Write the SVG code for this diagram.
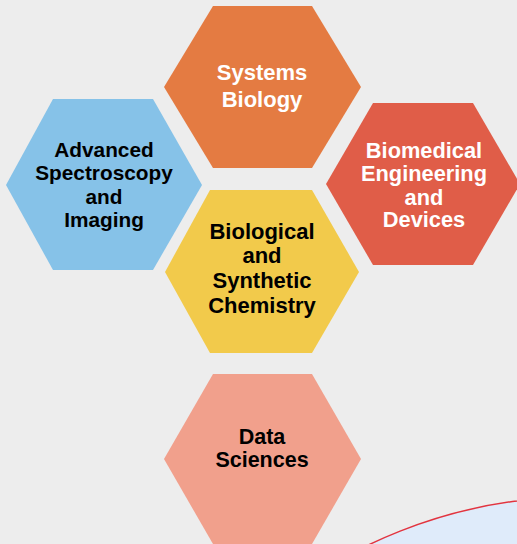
<svg xmlns="http://www.w3.org/2000/svg" width="517" height="544" viewBox="0 0 517 544">
<style>
  .t{font-family:"Liberation Sans",Arial,sans-serif;font-weight:bold;text-anchor:middle}
  .w{fill:#FFFFFF}
  .k{fill:#000000}
</style>
<rect x="0" y="0" width="517" height="544" fill="#EDEDED"/>
<g id="connectors"></g>
<circle cx="579" cy="983" r="486" fill="#DFEBFA" stroke="#E2343F" stroke-width="1.5"/>
<g id="systems-biology">
  <polygon points="164,87 213,6 312,6 361,87 312,168 213,168" fill="#E47B42"/>
  <text class="t w" font-size="22" x="262" y="80">Systems</text>
  <text class="t w" font-size="22" x="262" y="107">Biology</text>
</g>
<g id="advanced-spectroscopy">
  <polygon points="6,185 53,99 153,99 202,185 153,270 53,270" fill="#86C2E8"/>
  <text class="t k" font-size="20.8" x="104" y="157">Advanced</text>
  <text class="t k" font-size="20.8" x="104" y="180">Spectroscopy</text>
  <text class="t k" font-size="20.8" x="104" y="204">and</text>
  <text class="t k" font-size="20.8" x="104" y="227">Imaging</text>
</g>
<g id="biomedical-engineering">
  <polygon points="326,184 373,103 473,103 520,184 473,265 373,265" fill="#E05D48"/>
  <text class="t w" font-size="21.8" x="424" y="158">Biomedical</text>
  <text class="t w" font-size="21.8" x="424" y="181">Engineering</text>
  <text class="t w" font-size="21.8" x="424" y="205">and</text>
  <text class="t w" font-size="21.8" x="424" y="227">Devices</text>
</g>
<g id="biological-synthetic-chemistry">
  <polygon points="165,272 210,190 312,190 359,272 312,353 210,353" fill="#F2CA4B"/>
  <text class="t k" font-size="22" x="262" y="239">Biological</text>
  <text class="t k" font-size="22" x="262" y="263">and</text>
  <text class="t k" font-size="22" x="262" y="288">Synthetic</text>
  <text class="t k" font-size="22" x="262" y="313">Chemistry</text>
</g>
<g id="data-sciences">
  <polygon points="164,459 213,374 312,374 361,459 312,544 213,544" fill="#F1A08C"/>
  <text class="t k" font-size="21.5" x="262" y="444">Data</text>
  <text class="t k" font-size="21.5" x="262" y="467">Sciences</text>
</g>
</svg>
